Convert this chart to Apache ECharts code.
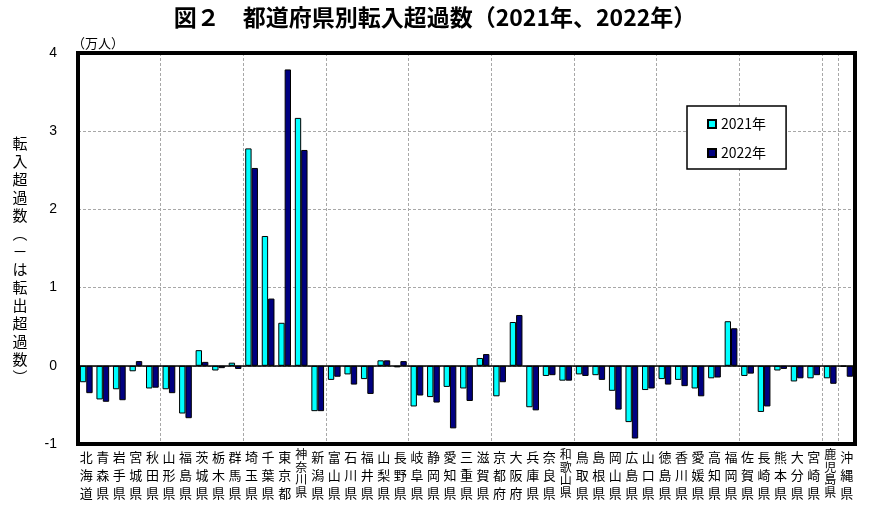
<!DOCTYPE html>
<html>
<head>
<meta charset="utf-8">
<script src="https://cdn.jsdelivr.net/npm/echarts@6/dist/echarts.min.js"></script>
<style>
  html, body { margin: 0; padding: 0; background: #fff; }
  #chart { width: 870px; height: 508px; }
</style>
</head>
<body>
<div id="chart"></div>
<script>
// prefectures, left to right
const prefectures = ['北海道', '青森県', '岩手県', '宮城県', '秋田県', '山形県', '福島県', '茨城県', '栃木県', '群馬県',
    '埼玉県', '千葉県', '東京都', '神奈川県', '新潟県', '富山県', '石川県', '福井県', '山梨県', '長野県',
    '岐阜県', '静岡県', '愛知県', '三重県', '滋賀県', '京都府', '大阪府', '兵庫県', '奈良県', '和歌山県',
    '鳥取県', '島根県', '岡山県', '広島県', '山口県', '徳島県', '香川県', '愛媛県', '高知県', '福岡県',
    '佐賀県', '長崎県', '熊本県', '大分県', '宮崎県', '鹿児島県', '沖縄県'];

// net migration, 10,000 persons
const values2021 = [-0.21, -0.43, -0.30, -0.07, -0.29, -0.30, -0.61, 0.20, -0.06, 0.04,
    2.78, 1.66, 0.55, 3.17, -0.58, -0.18, -0.11, -0.17, 0.07, -0.02,
    -0.52, -0.40, -0.27, -0.29, 0.10, -0.39, 0.56, -0.53, -0.13, -0.19,
    -0.11, -0.12, -0.32, -0.72, -0.31, -0.17, -0.18, -0.29, -0.16, 0.57,
    -0.13, -0.59, -0.06, -0.20, -0.16, -0.16, -0.01];

const values2022 = [-0.35, -0.46, -0.44, 0.06, -0.28, -0.35, -0.67, 0.05, -0.03, -0.04,
    2.53, 0.86, 3.79, 2.76, -0.58, -0.14, -0.24, -0.36, 0.07, 0.06,
    -0.38, -0.47, -0.80, -0.45, 0.15, -0.21, 0.65, -0.57, -0.12, -0.19,
    -0.13, -0.18, -0.56, -0.93, -0.29, -0.24, -0.26, -0.39, -0.15, 0.48,
    -0.10, -0.52, -0.04, -0.16, -0.12, -0.23, -0.14];

const seriesNames = ['2021年', '2022年'];
const yMin = -1, yMax = 4, yStep = 1;

const chart = echarts.init(document.getElementById('chart'));
const font = '"Noto Sans CJK JP", "Noto Sans", sans-serif';

// plot box
const gridLeft = 78, gridRight = 15, gridTop = 53, gridBottom = 64;
const plotW = 870 - gridLeft - gridRight;
const plotH = 508 - gridTop - gridBottom;

// stack characters vertically; 4-char names get a tighter line
function stackLabel(name) {
    const chars = name.split('');
    if (chars.length > 3) return chars.map(c => '{s|' + c + '}').join('\n');
    return chars.join('\n');
}

const option = {
    animation: false,
    title: {
        text: '図２　都道府県別転入超過数（2021年、2022年）',
        left: 'center',
        top: 6,
        padding: 0,
        textStyle: { fontFamily: font, fontSize: 23, fontWeight: 'bold', color: '#000' }
    },
    legend: {
        data: seriesNames,
        orient: 'vertical',
        left: 687,
        top: 106,
        padding: [11, 20, 9, 20],
        itemGap: 15,
        itemWidth: 8,
        itemHeight: 8,
        icon: 'rect',
        backgroundColor: '#fff',
        borderColor: '#000',
        borderWidth: 1.5,
        textStyle: { fontFamily: font, fontSize: 14, color: '#000' }
    },
    grid: {
        left: gridLeft,
        right: gridRight,
        top: gridTop,
        bottom: gridBottom,
        show: false
    },
    graphic: [
        {
            type: 'text',
            x: 72,
            y: 37,
            style: { text: '（万人）', fontFamily: font, fontSize: 13, fill: '#000' }
        },
        {
            type: 'text',
            x: 20,
            y: 134,
            style: {
                text: '転\n入\n超\n過\n数\n︵\n－\nは\n転\n出\n超\n過\n数\n︶',
                fontFamily: font,
                fontSize: 15,
                lineHeight: 18,
                align: 'center',
                verticalAlign: 'top',
                fill: '#000'
            }
        },
        {
            // thick frame round the plot
            type: 'rect',
            z: 100,
            silent: true,
            shape: { x: gridLeft, y: gridTop, width: plotW, height: plotH },
            style: { fill: null, stroke: '#000', lineWidth: 4 }
        }
    ],
    xAxis: {
        type: 'category',
        data: prefectures,
        position: 'bottom',
        axisLine: { show: false, onZero: false },
        axisTick: { show: false },
        splitLine: {
            show: true,
            interval: 4,
            lineStyle: { color: '#a8a8a8', type: [3, 2], width: 1 }
        },
        axisLabel: {
            interval: 0,
            margin: 4,
            fontFamily: font,
            fontSize: 13,
            lineHeight: 18,
            color: '#000',
            verticalAlign: 'top',
            formatter: stackLabel,
            rich: {
                s: { fontFamily: font, fontSize: 12, lineHeight: 12.7, color: '#000' }
            }
        }
    },
    yAxis: {
        type: 'value',
        min: yMin,
        max: yMax,
        interval: yStep,
        axisLine: { show: false },
        axisTick: { show: false },
        axisLabel: {
            margin: 21,
            fontFamily: '"Liberation Sans", Arial, sans-serif',
            fontSize: 14,
            color: '#000'
        },
        splitLine: {
            show: true,
            lineStyle: { color: '#a8a8a8', type: [3, 2], width: 1 }
        }
    },
    series: [
        {
            name: seriesNames[0],
            type: 'bar',
            data: values2021,
            barGap: '0%',
            barCategoryGap: '23%',
            itemStyle: { color: '#00ffff', borderColor: '#000', borderWidth: 1 },
            markLine: {
                silent: true,
                symbol: 'none',
                label: { show: false },
                lineStyle: { color: '#000', type: 'solid', width: 1.5 },
                data: [{ yAxis: 0 }]
            },
            z: 3
        },
        {
            name: seriesNames[1],
            type: 'bar',
            data: values2022,
            itemStyle: { color: '#000080', borderColor: '#000', borderWidth: 1 },
            z: 3
        }
    ]
};

chart.setOption(option);
</script>
</body>
</html>
